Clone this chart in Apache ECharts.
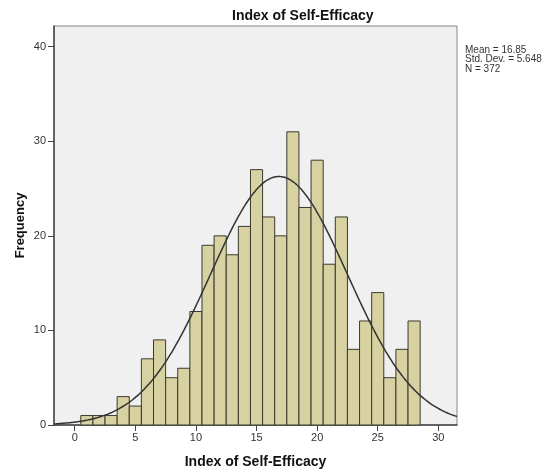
<!DOCTYPE html>
<html>
<head>
<meta charset="utf-8">
<script src="https://cdn.jsdelivr.net/npm/echarts@6/dist/echarts.min.js"></script>
<style>
  html, body { margin: 0; padding: 0; background: #fff; }
  #chart { width: 548px; height: 469px; }
</style>
</head>
<body>
<div id="chart"></div>
<script>
// bin centres (bin width 1) and counts
const binCenters = [1, 2, 3, 4, 5, 6, 7, 8, 9, 10, 11, 12, 13, 14,
                    15, 16, 17, 18, 19, 20, 21, 22, 23, 24, 25, 26, 27, 28];
const frequencies = [1, 1, 1, 3, 2, 7, 9, 5, 6, 12, 19, 20, 18, 21,
                     27, 22, 20, 31, 23, 28, 17, 22, 8, 11, 14, 5, 8, 11];
const xTicks = [0, 5, 10, 15, 20, 25, 30];
const yTicks = [0, 10, 20, 30, 40];

// summary stats printed beside the plot
const mean = 16.85;
const stdDev = 5.648;
const n = 372;
const binWidth = 1;

const xMin = -1.71, xMax = 31.54;
const yMax = 42.19;

// fitted normal curve, scaled to counts
const curve = [];
for (let i = 0; i <= 200; i++) {
    const x = xMin + (xMax - xMin) * i / 200;
    const z = (x - mean) / stdDev;
    const y = n * binWidth * Math.exp(-0.5 * z * z) / (stdDev * Math.sqrt(2 * Math.PI));
    curve.push([x, y]);
}

const chart = echarts.init(document.getElementById('chart'));
const font = 'Liberation Sans, Arial, sans-serif';

chart.setOption({
    animation: false,
    textStyle: { fontFamily: font },
    title: {
        text: 'Index of Self-Efficacy',
        left: 227, top: 4,
        textStyle: { fontSize: 14, fontWeight: 'bold', color: '#111', fontFamily: font }
    },
    graphic: [{
        type: 'text',
        left: 465, top: 45,
        style: {
            text: 'Mean = ' + mean + '\nStd. Dev. = ' + stdDev + '\nN = ' + n,
            font: '10px ' + font,
            fill: '#333',
            lineHeight: 9.5
        }
    }],
    grid: {
        left: 54, right: 91, top: 26, bottom: 44,
        outerBoundsMode: 'none',
        containLabel: false,
        show: true,
        backgroundColor: '#f0f0f0',
        borderColor: '#888',
        borderWidth: 1
    },
    xAxis: {
        type: 'value',
        min: xMin, max: xMax,
        name: 'Index of Self-Efficacy',
        nameLocation: 'middle',
        nameGap: 30,
        nameMoveOverlap: false,
        nameTextStyle: { fontSize: 14, fontWeight: 'bold', color: '#111' },
        splitLine: { show: false },
        axisLine: { onZero: false, lineStyle: { color: '#444', width: 1.5 } },
        axisTick: { customValues: xTicks, length: 6, lineStyle: { color: '#444' } },
        axisLabel: { customValues: xTicks, color: '#333', fontSize: 11, margin: 7 }
    },
    yAxis: {
        type: 'value',
        min: 0, max: yMax,
        name: 'Frequency',
        nameLocation: 'middle',
        nameGap: 27,
        nameMoveOverlap: false,
        nameTextStyle: { fontSize: 13, fontWeight: 'bold', color: '#111' },
        splitLine: { show: false },
        axisLine: { show: true, onZero: false, lineStyle: { color: '#444', width: 1.5 } },
        axisTick: { show: true, customValues: yTicks, length: 6, lineStyle: { color: '#444' } },
        axisLabel: { customValues: yTicks, color: '#333', fontSize: 11, margin: 8 }
    },
    series: [{
        type: 'custom',
        data: binCenters.map((c, i) => [c, frequencies[i]]),
        renderItem: function (params, api) {
            const c = api.value(0);
            const p0 = api.coord([c - binWidth / 2, api.value(1)]);
            const p1 = api.coord([c + binWidth / 2, 0]);
            return {
                type: 'rect',
                shape: { x: p0[0], y: p0[1], width: p1[0] - p0[0], height: p1[1] - p0[1] },
                style: { fill: '#d8d2a2', stroke: '#3a3a2c', lineWidth: 1 }
            };
        },
        z: 2
    }, {
        type: 'line',
        data: curve,
        showSymbol: false,
        smooth: true,
        clip: true,
        lineStyle: { color: '#333', width: 1.5 },
        z: 3
    }]
});
</script>
</body>
</html>
